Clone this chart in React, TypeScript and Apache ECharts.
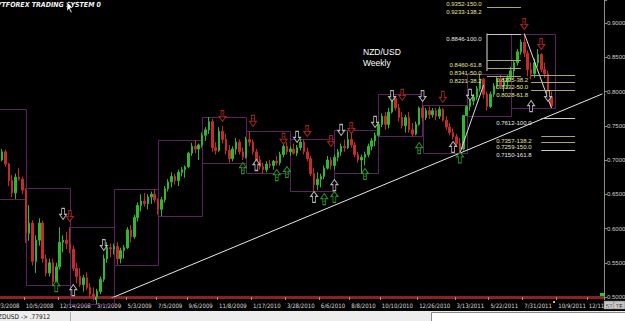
import React, { useEffect, useRef } from "react";
import * as echarts from "echarts";

// ---------- data ----------
const firstWeekUTC = Date.UTC(2008, 6, 6); // 7/6/2008, weekly bars
const weekTotal = 184;

// weekly [open, high, low, close] from 7/6/2008 to 9/25/2011
const weeklyOHLC: number[][] = [
  [0.7620, 0.7740, 0.7560, 0.7640], [0.7640, 0.7700, 0.7500, 0.7540], [0.7540, 0.7580, 0.7380, 0.7400], [0.7400, 0.7420, 0.7200, 0.7250],
  [0.7250, 0.7280, 0.7050, 0.7080], [0.7080, 0.7120, 0.6950, 0.7000], [0.7000, 0.7160, 0.6980, 0.7120], [0.7120, 0.7150, 0.6900, 0.6940],
  [0.6940, 0.6960, 0.6620, 0.6700], [0.6700, 0.6780, 0.6460, 0.6520], [0.6520, 0.6800, 0.6430, 0.6750], [0.6750, 0.6880, 0.6700, 0.6720],
  [0.6720, 0.6760, 0.6500, 0.6560], [0.6560, 0.6590, 0.5790, 0.5930], [0.5930, 0.6340, 0.5820, 0.6080], [0.6080, 0.6120, 0.5460, 0.5520],
  [0.5520, 0.5900, 0.5350, 0.5830], [0.5830, 0.6150, 0.5750, 0.6080], [0.6080, 0.6110, 0.5500, 0.5560], [0.5560, 0.5620, 0.5300, 0.5350],
  [0.5350, 0.5560, 0.5300, 0.5500], [0.5500, 0.5560, 0.5175, 0.5220], [0.5220, 0.5500, 0.5180, 0.5440], [0.5440, 0.6020, 0.5400, 0.5800],
  [0.5800, 0.5900, 0.5650, 0.5830], [0.5830, 0.5950, 0.5700, 0.5780], [0.5780, 0.6020, 0.5640, 0.5700], [0.5700, 0.5750, 0.5380, 0.5420],
  [0.5420, 0.5500, 0.5200, 0.5300], [0.5300, 0.5420, 0.5150, 0.5180], [0.5180, 0.5320, 0.5080, 0.5280], [0.5280, 0.5360, 0.5100, 0.5140],
  [0.5140, 0.5200, 0.4990, 0.5040], [0.5040, 0.5140, 0.4950, 0.5000], [0.5000, 0.5120, 0.4897, 0.5080], [0.5080, 0.5300, 0.5040, 0.5260],
  [0.5260, 0.5620, 0.5220, 0.5560], [0.5560, 0.5800, 0.5500, 0.5720], [0.5720, 0.5780, 0.5580, 0.5700], [0.5700, 0.5780, 0.5620, 0.5740],
  [0.5740, 0.5800, 0.5470, 0.5560], [0.5560, 0.5720, 0.5490, 0.5680], [0.5680, 0.5760, 0.5560, 0.5720], [0.5720, 0.6020, 0.5700, 0.5980],
  [0.5980, 0.6050, 0.5800, 0.5880], [0.5880, 0.6200, 0.5850, 0.6160], [0.6160, 0.6380, 0.6100, 0.6340], [0.6340, 0.6500, 0.6250, 0.6400],
  [0.6400, 0.6520, 0.6320, 0.6360], [0.6360, 0.6500, 0.6280, 0.6460], [0.6460, 0.6540, 0.6360, 0.6500], [0.6500, 0.6580, 0.6380, 0.6420],
  [0.6420, 0.6440, 0.6200, 0.6280], [0.6280, 0.6460, 0.6180, 0.6420], [0.6420, 0.6620, 0.6380, 0.6580], [0.6580, 0.6720, 0.6540, 0.6680],
  [0.6680, 0.6820, 0.6600, 0.6760], [0.6760, 0.6800, 0.6640, 0.6700], [0.6700, 0.6860, 0.6620, 0.6820], [0.6820, 0.6900, 0.6760, 0.6860],
  [0.6860, 0.6920, 0.6740, 0.6900], [0.6900, 0.7120, 0.6880, 0.7100], [0.7100, 0.7250, 0.7060, 0.7200], [0.7200, 0.7290, 0.7100, 0.7160],
  [0.7160, 0.7240, 0.7000, 0.7220], [0.7220, 0.7400, 0.7180, 0.7360], [0.7360, 0.7480, 0.7280, 0.7440], [0.7440, 0.7628, 0.7380, 0.7560],
  [0.7560, 0.7600, 0.7120, 0.7180], [0.7180, 0.7260, 0.7080, 0.7140], [0.7140, 0.7480, 0.7120, 0.7420], [0.7420, 0.7500, 0.7240, 0.7300],
  [0.7300, 0.7380, 0.7080, 0.7140], [0.7140, 0.7220, 0.6960, 0.7020], [0.7020, 0.7200, 0.6980, 0.7160], [0.7160, 0.7320, 0.7080, 0.7260],
  [0.7260, 0.7300, 0.7080, 0.7120], [0.7120, 0.7180, 0.7000, 0.7040], [0.7040, 0.7340, 0.7020, 0.7300], [0.7300, 0.7420, 0.7200, 0.7260],
  [0.7260, 0.7300, 0.7080, 0.7120], [0.7120, 0.7160, 0.6960, 0.7000], [0.7000, 0.7060, 0.6860, 0.6900], [0.6900, 0.6960, 0.6800, 0.6860],
  [0.6860, 0.6980, 0.6820, 0.6940], [0.6940, 0.7000, 0.6880, 0.6920], [0.6920, 0.7000, 0.6860, 0.6980], [0.6980, 0.7060, 0.6920, 0.6960],
  [0.6960, 0.7120, 0.6920, 0.7080], [0.7080, 0.7260, 0.7040, 0.7200], [0.7200, 0.7260, 0.7080, 0.7120], [0.7120, 0.7200, 0.7060, 0.7160],
  [0.7160, 0.7240, 0.7080, 0.7100], [0.7100, 0.7220, 0.7060, 0.7180], [0.7180, 0.7310, 0.7140, 0.7260], [0.7260, 0.7300, 0.7080, 0.7120],
  [0.7120, 0.7180, 0.6980, 0.7020], [0.7020, 0.7060, 0.6760, 0.6800], [0.6800, 0.6880, 0.6550, 0.6640], [0.6640, 0.6820, 0.6560, 0.6720],
  [0.6720, 0.6800, 0.6600, 0.6760], [0.6760, 0.6920, 0.6720, 0.6880], [0.6880, 0.7060, 0.6860, 0.7000], [0.7000, 0.7040, 0.6860, 0.6920],
  [0.6920, 0.7080, 0.6860, 0.7040], [0.7040, 0.7160, 0.6980, 0.7120], [0.7120, 0.7240, 0.7060, 0.7200], [0.7200, 0.7300, 0.7120, 0.7180],
  [0.7180, 0.7420, 0.7160, 0.7300], [0.7300, 0.7440, 0.7180, 0.7220], [0.7220, 0.7260, 0.7040, 0.7080], [0.7080, 0.7120, 0.6960, 0.7000],
  [0.7000, 0.7080, 0.6810, 0.7040], [0.7040, 0.7120, 0.6920, 0.7080], [0.7080, 0.7240, 0.7040, 0.7200], [0.7200, 0.7320, 0.7140, 0.7280],
  [0.7280, 0.7400, 0.7200, 0.7360], [0.7360, 0.7560, 0.7340, 0.7520], [0.7520, 0.7680, 0.7480, 0.7640], [0.7640, 0.7700, 0.7440, 0.7520],
  [0.7520, 0.7760, 0.7460, 0.7700], [0.7700, 0.7960, 0.7680, 0.7900], [0.7900, 0.7940, 0.7720, 0.7760], [0.7760, 0.7820, 0.7560, 0.7620],
  [0.7620, 0.7700, 0.7460, 0.7500], [0.7500, 0.7660, 0.7400, 0.7620], [0.7620, 0.7700, 0.7400, 0.7440], [0.7440, 0.7540, 0.7340, 0.7380],
  [0.7380, 0.7560, 0.7360, 0.7520], [0.7520, 0.7780, 0.7500, 0.7760], [0.7760, 0.7800, 0.7560, 0.7620], [0.7620, 0.7760, 0.7580, 0.7720],
  [0.7720, 0.7780, 0.7600, 0.7660], [0.7660, 0.7760, 0.7620, 0.7720], [0.7720, 0.7760, 0.7580, 0.7640], [0.7640, 0.7780, 0.7600, 0.7740],
  [0.7740, 0.7760, 0.7560, 0.7580], [0.7580, 0.7640, 0.7440, 0.7480], [0.7480, 0.7540, 0.7360, 0.7400], [0.7400, 0.7460, 0.7300, 0.7340],
  [0.7340, 0.7380, 0.7200, 0.7240], [0.7240, 0.7320, 0.7100, 0.7160], [0.7160, 0.7660, 0.7140, 0.7650], [0.7650, 0.7800, 0.7645, 0.7780],
  [0.7780, 0.7900, 0.7720, 0.7860], [0.7860, 0.7960, 0.7800, 0.7920], [0.7920, 0.8080, 0.7880, 0.8040], [0.8040, 0.8260, 0.8000, 0.8180],
  [0.8180, 0.8200, 0.7900, 0.7960], [0.7960, 0.8000, 0.7720, 0.7780], [0.7780, 0.8000, 0.7760, 0.7960], [0.7960, 0.8120, 0.7920, 0.8080],
  [0.8080, 0.8220, 0.8040, 0.8180], [0.8180, 0.8240, 0.8040, 0.8080], [0.8080, 0.8200, 0.8000, 0.8140], [0.8140, 0.8240, 0.8040, 0.8200],
  [0.8200, 0.8360, 0.8160, 0.8300], [0.8300, 0.8460, 0.8200, 0.8420], [0.8420, 0.8620, 0.8380, 0.8580], [0.8580, 0.8760, 0.8540, 0.8720],
  [0.8720, 0.8846, 0.8500, 0.8560], [0.8560, 0.8600, 0.8220, 0.8320], [0.8320, 0.8420, 0.8180, 0.8260], [0.8260, 0.8480, 0.8200, 0.8420],
  [0.8420, 0.8620, 0.8360, 0.8540], [0.8540, 0.8560, 0.8280, 0.8320], [0.8320, 0.8420, 0.8200, 0.8260], [0.8260, 0.8300, 0.7880, 0.7920],
  [0.7920, 0.8000, 0.7760, 0.7791],
];

const dateTickLabels = [
  "8/3/2008", "10/5/2008", "12/14/2008", "3/1/2009", "5/3/2009", "7/5/2009", "9/6/2009", "11/8/2009",
  "1/17/2010", "3/28/2010", "6/6/2010", "8/8/2010", "10/10/2010", "12/26/2010", "3/13/2011", "5/22/2011",
  "7/31/2011", "10/9/2011", "12/11/2011",
];

// fib expansion levels [price, percent]
const fibUpper = [[0.9352, 150.0], [0.9233, 138.2], [0.8846, 100.0], [0.8460, 61.8], [0.8341, 50.0], [0.8221, 38.2]];
const fibLower = [[0.8235, 38.2], [0.8132, 50.0], [0.8028, 61.8], [0.7612, 100.0], [0.7357, 138.2], [0.7259, 150.0], [0.7150, 161.8]];

// trend line anchors [week index, price]
const trendLine = [[34, 0.4897], [183, 0.7965]];
// drawn fib anchor segments [week1, price1, week2, price2]
const fibAnchors = [[141, 0.7100, 148, 0.8095], [149, 0.8846, 149, 0.8300], [160, 0.8846, 168, 0.7760]];

// signal arrows [week index, price, colour key, tag]
const downArrows: [number, number, string, string][] = [
  [24, 0.6212, "w", ""], [26, 0.6182, "r", "1"], [36, 0.5759, "w", ""], [71, 0.7642, "r", "1"], [80, 0.7570, "r", "2"],
  [89, 0.7307, "r", "2"], [93, 0.7336, "w", ""], [96, 0.7423, "r", "1"], [103, 0.7277, "r", "2"], [106, 0.7438, "w", ""],
  [109, 0.7467, "r", "1"], [116, 0.7555, "w", ""], [121, 0.7934, "w", ""], [124, 0.7949, "r", "1"], [130, 0.7934, "w", ""],
  [136, 0.7920, "r", ""], [144, 0.7949, "w", ""], [160, 0.8985, "r", "1"], [165, 0.8693, "r", "2"], [167, 0.7934, "w", ""],
];
const upArrows: [number, number, string, string][] = [
  [22, 0.5160, "g", ""], [27, 0.5102, "w", ""], [77, 0.6883, "g", "2"], [81, 0.6927, "w", ""], [87, 0.6781, "g", "1"],
  [90, 0.6825, "g", "3"], [98, 0.6460, "w", ""], [101, 0.6430, "g", "1"], [104, 0.6460, "g", ""], [104, 0.6635, "w", ""],
  [113, 0.6796, "g", "3"], [129, 0.7175, "g", "2"], [139, 0.7190, "w", ""], [141, 0.7040, "g", ""], [162, 0.7788, "w", ""],
];

// ---------- derived ----------
const DAY = 86400000;
const weekDates: string[] = [];
for (let i = 0; i < weekTotal; i++) {
  const d = new Date(firstWeekUTC + i * 7 * DAY);
  weekDates.push(`${d.getUTCMonth() + 1}/${d.getUTCDate()}/${d.getUTCFullYear()}`);
}
const quarterOf = (j: number) => {
  const d = new Date(firstWeekUTC + j * 7 * DAY);
  return d.getUTCFullYear() * 4 + Math.floor(d.getUTCMonth() / 3);
};
const quarterBoxes: number[][] = [];
{
  let cur: any = null;
  weeklyOHLC.forEach(([, h, l], j) => {
    const q = quarterOf(j);
    if (!cur || cur.q !== q) {
      if (cur) quarterBoxes.push([cur.start, j, cur.hi, cur.lo]);
      cur = { q, start: j, hi: h, lo: l };
    } else {
      cur.hi = Math.max(cur.hi, h);
      cur.lo = Math.min(cur.lo, l);
    }
  });
  let e = weeklyOHLC.length;
  while (quarterOf(e) === cur.q) e++;
  quarterBoxes.push([cur.start, e, cur.hi, cur.lo]);
}
const lastClose = weeklyOHLC[weeklyOHLC.length - 1][3];
const tickSet = new Set(dateTickLabels);

const COLORS: Record<string, string> = { r: "#cc2a2a", g: "#2fb82f", w: "#e2e2e2" };
const DOWN = "path://M3,0L7,0L7,6L10,6L5,11L0,6L3,6Z";
const UP = "path://M5,0L10,5L7,5L7,11L3,11L3,5L0,5Z";
const arrowItems = (list: [number, number, string, string][], sym: string) =>
  list.map(([j, p, c, tag]) => ({
    value: [j, p],
    symbol: sym,
    tag,
    itemStyle: { color: "#000", borderColor: COLORS[c], borderWidth: 1 },
    label: { color: COLORS[c] },
  }));

const trendData: (number | null)[] = new Array(weekTotal).fill(null);
trendLine.forEach(([j, p]) => (trendData[j] = p));

const fibRows = [
  ...fibUpper.map(([p, pct]) => [148, p, pct, 149, 159, 1]),
  ...fibLower.map(([p, pct]) => [152, p, pct, `${p.toFixed(4)}-${pct.toFixed(1)}`.length > 11 ? 165 : 162, 175, 0]),
];

const FONT = '"Liberation Sans", Arial, sans-serif';
const NARROW = '"Liberation Sans Narrow", "DejaVu Sans Condensed", "Liberation Sans", sans-serif';

const option: any = {
  animation: false,
  backgroundColor: "#000",
  grid: { left: -20, right: 21, top: 0, bottom: 24, outerBoundsMode: "none" },
  xAxis: {
    type: "category",
    data: weekDates,
    boundaryGap: true,
    axisLine: { show: true, lineStyle: { color: "#8c2222", width: 3, type: [2, 1] } },
    axisTick: { show: true, length: 3, interval: (i: number, v: string) => tickSet.has(v), lineStyle: { color: "#999" } },
    axisLabel: {
      interval: (i: number, v: string) => tickSet.has(v),
      color: "#dcdcdc",
      fontSize: 6,
      fontFamily: NARROW,
      align: "left",
      margin: 5,
    },
    splitLine: { show: false },
  },
  yAxis: {
    type: "value",
    position: "right",
    min: 0.5,
    max: 0.93358,
    interval: 0.05,
    axisLine: { show: true, lineStyle: { color: "#8c8c8c" } },
    axisTick: { show: true, length: 3, lineStyle: { color: "#8c8c8c" } },
    axisLabel: {
      color: "#d0d0d0",
      fontSize: 6,
      fontFamily: FONT,
      margin: 3,
      formatter: (v: number) => (Math.abs(v * 20 - Math.round(v * 20)) < 1e-6 ? v.toFixed(4) : ""),
    },
    splitLine: { show: false },
  },
  series: [
    {
      type: "custom",
      name: "quarters",
      silent: true,
      z: 1,
      data: quarterBoxes,
      encode: { x: [0, 1], y: [2, 3] },
      renderItem: (params: any, api: any) => {
        const a = api.coord([api.value(0), api.value(2)]);
        const b = api.coord([api.value(1), api.value(3)]);
        return {
          type: "rect",
          shape: { x: Math.round(a[0]) + 0.5, y: Math.round(a[1]) + 0.5, width: Math.round(b[0] - a[0]), height: Math.round(b[1] - a[1]) },
          style: { fill: "none", stroke: "#5a2260", lineWidth: 1 },
        };
      },
    },
    {
      type: "candlestick",
      name: "NZDUSD",
      z: 3,
      barWidth: 2,
      data: weeklyOHLC.map(([o, h, l, c]) => [o, c, l, h]),
      itemStyle: { color: "#2fb82f", color0: "#c42b2b", borderColor: "#2fb82f", borderColor0: "#c42b2b", borderWidth: 1 },
      markLine: {
        silent: true,
        symbol: "none",
        data: [{ yAxis: lastClose }],
        lineStyle: { opacity: 0 },
        label: {
          position: "end",
          formatter: lastClose.toFixed(4),
          backgroundColor: "#ececec",
          color: "#000",
          fontSize: 6,
          fontFamily: FONT,
          padding: [1, 1, 1, 1],
          distance: 1,
        },
      },
    },
    {
      type: "line",
      name: "trend",
      z: 4,
      data: trendData,
      connectNulls: true,
      symbol: "none",
      silent: true,
      lineStyle: { color: "#e8e8e8", width: 1 },
    },
    {
      type: "custom",
      name: "fibAnchors",
      z: 4,
      silent: true,
      data: fibAnchors,
      encode: { x: [0, 2], y: [1, 3] },
      renderItem: (params: any, api: any) => {
        const a = api.coord([api.value(0), api.value(1)]);
        const b = api.coord([api.value(2), api.value(3)]);
        return { type: "line", shape: { x1: a[0], y1: a[1], x2: b[0], y2: b[1] }, style: { stroke: "#dcdcdc", lineWidth: 1 } };
      },
    },
    {
      type: "custom",
      name: "fib",
      z: 5,
      silent: true,
      data: fibRows,
      encode: { x: 0, y: 1 },
      renderItem: (params: any, api: any) => {
        const tj = api.value(0), p = api.value(1), pct = api.value(2), ls = api.value(3), le = api.value(4), right = api.value(5);
        const t = api.coord([tj, p]);
        const a = api.coord([ls, p]);
        const b = api.coord([le, p]);
        const y = Math.round(t[1]) + 0.5;
        const main = pct === 100 || pct === 161.8;
        const text = `${p.toFixed(4)}-${pct.toFixed(1)}`;
        return {
          type: "group",
          children: [
            { type: "line", shape: { x1: a[0], y1: y, x2: b[0], y2: y }, style: { stroke: main ? "#c8c8c8" : "#a8a868", lineWidth: 1 } },
            {
              type: "text",
              x: right ? t[0] - 2 : t[0] - 1,
              y: y + 4,
              style: { text, fill: main ? "#e8e8e8" : "#e8e79a", fontSize: 6, fontFamily: FONT, align: right ? "right" : "left", verticalAlign: "middle" },
            },
          ],
        };
      },
    },
    {
      type: "scatter",
      name: "down",
      z: 6,
      silent: true,
      symbolSize: [7, 11],
      data: arrowItems(downArrows, DOWN),
      label: { show: true, position: "inside", fontSize: 5, fontFamily: FONT, formatter: (p: any) => p.data.tag, offset: [0, -1] },
    },
    {
      type: "scatter",
      name: "up",
      z: 6,
      silent: true,
      symbolSize: [7, 11],
      data: arrowItems(upArrows, UP),
      label: { show: true, position: "inside", fontSize: 5, fontFamily: FONT, formatter: (p: any) => p.data.tag, offset: [0, 1] },
    },
  ],
  graphic: [
    { type: "text", x: -3, y: 1, style: { text: "YTFOREX TRADING SYSTEM 0", fill: "#f2f2f2", fontSize: 7, fontStyle: "italic", fontWeight: "bold", fontFamily: NARROW } },
    { type: "polygon", shape: { points: [[67, 2], [67, 11], [69, 9], [71, 13], [72, 12], [70, 8], [73, 8]] }, style: { fill: "#fff", stroke: "#000", lineWidth: 0.5 } },
    { type: "text", x: 363, y: 47, style: { text: "NZD/USD", fill: "#fff", fontSize: 8.5, fontFamily: FONT } },
    { type: "text", x: 363, y: 58, style: { text: "Weekly", fill: "#fff", fontSize: 8.5, fontFamily: FONT } },
    { type: "rect", shape: { x: 600, y: 293, width: 5, height: 5 }, style: { fill: "#22cc22" } },
    { type: "rect", shape: { x: 553, y: 301, width: 2, height: 2 }, style: { fill: "#e0c040" } },
    { type: "rect", shape: { x: 604, y: 301, width: 10, height: 8 }, style: { fill: "#c4c4c4", stroke: "#777", lineWidth: 0.5 } },
    { type: "text", x: 605.5, y: 302.5, style: { text: "ST", fill: "#222", fontSize: 5.5, fontFamily: FONT } },
    { type: "rect", shape: { x: 614, y: 301, width: 11, height: 8 }, style: { fill: "#c4c4c4", stroke: "#777", lineWidth: 0.5 } },
    { type: "text", x: 616, y: 302.5, style: { text: "TF", fill: "#222", fontSize: 5.5, fontFamily: FONT } },
    { type: "rect", shape: { x: 0, y: 311, width: 625, height: 10 }, style: { fill: "#ededed" } },
    { type: "line", shape: { x1: 70.5, y1: 312, x2: 70.5, y2: 321 }, style: { stroke: "#b0b0b0", lineWidth: 1 } },
    { type: "text", x: -2, y: 313, style: { text: "ZDUSD -> .77912", fill: "#111", fontSize: 6.5, fontFamily: NARROW } },
    { type: "rect", shape: { x: 431.5, y: 312.5, width: 194, height: 9 }, style: { fill: "#fff", stroke: "#8a8a8a", lineWidth: 1 } },
  ],
};

export default function App() {
  const ref = useRef<HTMLDivElement>(null);
  useEffect(() => {
    const chart = echarts.init(ref.current!, null, { renderer: "svg" });
    chart.setOption(option);
    return () => chart.dispose();
  }, []);
  return <div ref={ref} style={{ position: "absolute", left: 0, top: 0, width: 625, height: 321 }} />;
}
